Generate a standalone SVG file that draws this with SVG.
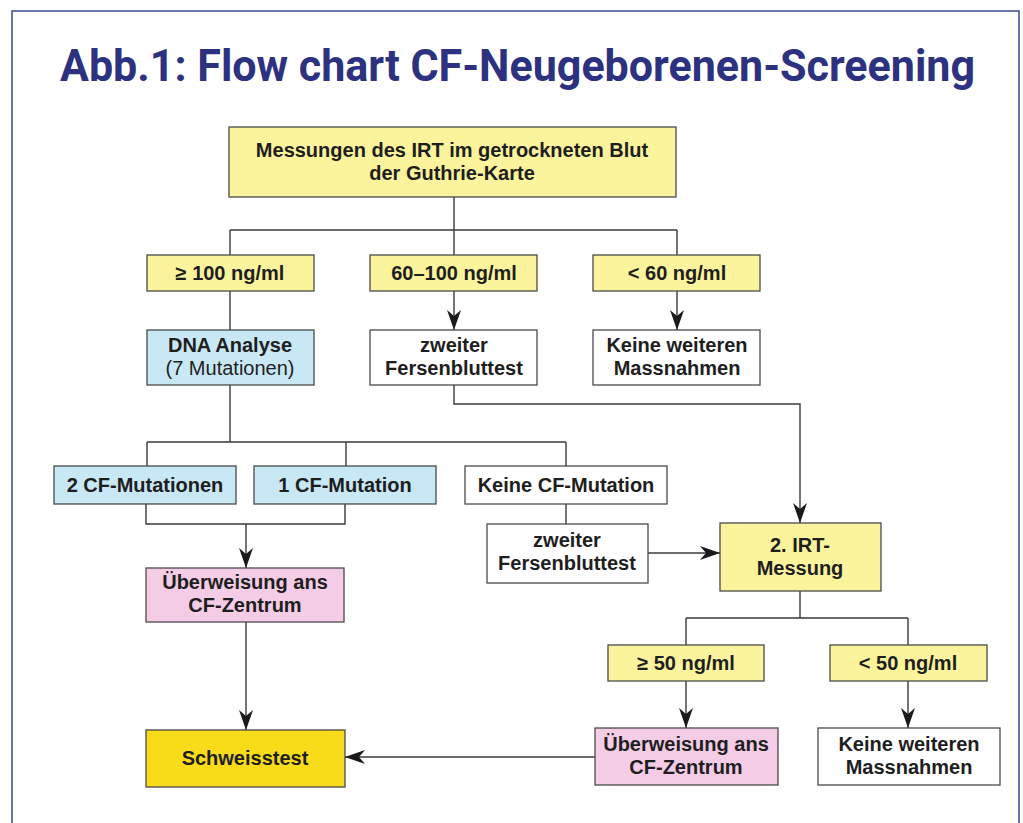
<svg xmlns="http://www.w3.org/2000/svg" width="1023" height="823" viewBox="0 0 1023 823">
<style>
.box{stroke:#4a4a4a;stroke-width:1.3}
.y{fill:#fbf49c}.b{fill:#c9e8f6}.p{fill:#f4cce6}.g{fill:#f8dc1a}.w{fill:#ffffff}
text{font-family:"Liberation Sans",Arial,sans-serif;font-weight:700;font-size:20px;fill:#1e1e1e;text-anchor:middle}
.n{font-weight:400}
.title{font-family:Roboto,"Liberation Sans",sans-serif;font-size:44px;fill:#2c3180;text-anchor:start}
.c{fill:none;stroke:#3a3a3a;stroke-width:1.4}
</style>
<defs>
<marker id="ah" markerUnits="userSpaceOnUse" markerWidth="22" markerHeight="14" refX="20" refY="7" orient="auto">
<path d="M0,0 L20,7 L0,14 L6,7 z" fill="#1a1a1a"/>
</marker>
</defs>
<rect width="1023" height="823" fill="#ffffff"/>
<path d="M12,823 V11 H1019 V823" fill="none" stroke="#3d4a8f" stroke-width="1.5"/>
<text class="title" x="60" y="81" textLength="915" lengthAdjust="spacingAndGlyphs">Abb.1: Flow chart CF-Neugeborenen-Screening</text>

<g id="connectors">
<path class="c" d="M454,197 V230 M230,230 H677 M230,230 V255 M454,230 V255 M677,230 V255"/>
<path class="c" d="M454,291 V330" marker-end="url(#ah)"/>
<path class="c" d="M677,291 V330" marker-end="url(#ah)"/>
<path class="c" d="M230,291 V330"/>
<path class="c" d="M230,385 V442 M147,442 H566 M147,442 V466 M346,442 V466 M566,442 V466"/>
<path class="c" d="M146,504 V524 H345 V504"/>
<path class="c" d="M246,524 V568" marker-end="url(#ah)"/>
<path class="c" d="M246,622 V730" marker-end="url(#ah)"/>
<path class="c" d="M566,504 V524"/>
<path class="c" d="M648,553 H720" marker-end="url(#ah)"/>
<path class="c" d="M454,385 V404 H800 V523" marker-end="url(#ah)"/>
<path class="c" d="M800,591 V618 M686,618 H908 M686,618 V645 M908,618 V645"/>
<path class="c" d="M686,681 V728" marker-end="url(#ah)"/>
<path class="c" d="M908,681 V728" marker-end="url(#ah)"/>
<path class="c" d="M595,757 H345" marker-end="url(#ah)"/>
</g>

<g id="n_irt">
<rect class="box y" x="229" y="127" width="447" height="70"/>
<text x="452" y="157">Messungen des IRT im getrockneten Blut</text>
<text x="452" y="180">der Guthrie-Karte</text>
</g>
<g id="n_ge100">
<rect class="box y" x="147" y="255" width="167" height="36"/>
<text x="230" y="280">≥ 100 ng/ml</text>
</g>
<g id="n_60_100">
<rect class="box y" x="370" y="255" width="167" height="36"/>
<text x="454" y="280">60–100 ng/ml</text>
</g>
<g id="n_lt60">
<rect class="box y" x="593" y="255" width="167" height="36"/>
<text x="677" y="280">&lt; 60 ng/ml</text>
</g>
<g id="n_dna">
<rect class="box b" x="147" y="330" width="167" height="55"/>
<text x="230" y="352">DNA Analyse</text>
<text class="n" x="230" y="375">(7 Mutationen)</text>
</g>
<g id="n_zweiter1">
<rect class="box w" x="370" y="330" width="167" height="55"/>
<text x="454" y="352">zweiter</text>
<text x="454" y="375">Fersenbluttest</text>
</g>
<g id="n_keine1">
<rect class="box w" x="593" y="330" width="167" height="55"/>
<text x="677" y="352">Keine weiteren</text>
<text x="677" y="375">Massnahmen</text>
</g>
<g id="n_2cf">
<rect class="box b" x="54" y="466" width="182" height="38"/>
<text x="145" y="492">2 CF-Mutationen</text>
</g>
<g id="n_1cf">
<rect class="box b" x="254" y="466" width="182" height="38"/>
<text x="345" y="492">1 CF-Mutation</text>
</g>
<g id="n_0cf">
<rect class="box w" x="465" y="466" width="202" height="38"/>
<text x="566" y="492">Keine CF-Mutation</text>
</g>
<g id="n_ueber1">
<rect class="box p" x="146" y="568" width="198" height="54"/>
<text x="245" y="589">Überweisung ans</text>
<text x="245" y="612">CF-Zentrum</text>
</g>
<g id="n_zweiter2">
<rect class="box w" x="487" y="524" width="161" height="59"/>
<text x="567" y="547">zweiter</text>
<text x="567" y="570">Fersenbluttest</text>
</g>
<g id="n_irt2">
<rect class="box y" x="720" y="523" width="161" height="68"/>
<text x="800" y="552">2. IRT-</text>
<text x="800" y="575">Messung</text>
</g>
<g id="n_ge50">
<rect class="box y" x="608" y="645" width="156" height="36"/>
<text x="686" y="670">≥ 50 ng/ml</text>
</g>
<g id="n_lt50">
<rect class="box y" x="830" y="645" width="157" height="36"/>
<text x="908" y="670">&lt; 50 ng/ml</text>
</g>
<g id="n_schweiss">
<rect class="box g" x="146" y="730" width="199" height="57"/>
<text x="245" y="765">Schweisstest</text>
</g>
<g id="n_ueber2">
<rect class="box p" x="595" y="728" width="183" height="57"/>
<text x="686" y="751">Überweisung ans</text>
<text x="686" y="774">CF-Zentrum</text>
</g>
<g id="n_keine2">
<rect class="box w" x="818" y="728" width="182" height="57"/>
<text x="909" y="751">Keine weiteren</text>
<text x="909" y="774">Massnahmen</text>
</g>
</svg>
